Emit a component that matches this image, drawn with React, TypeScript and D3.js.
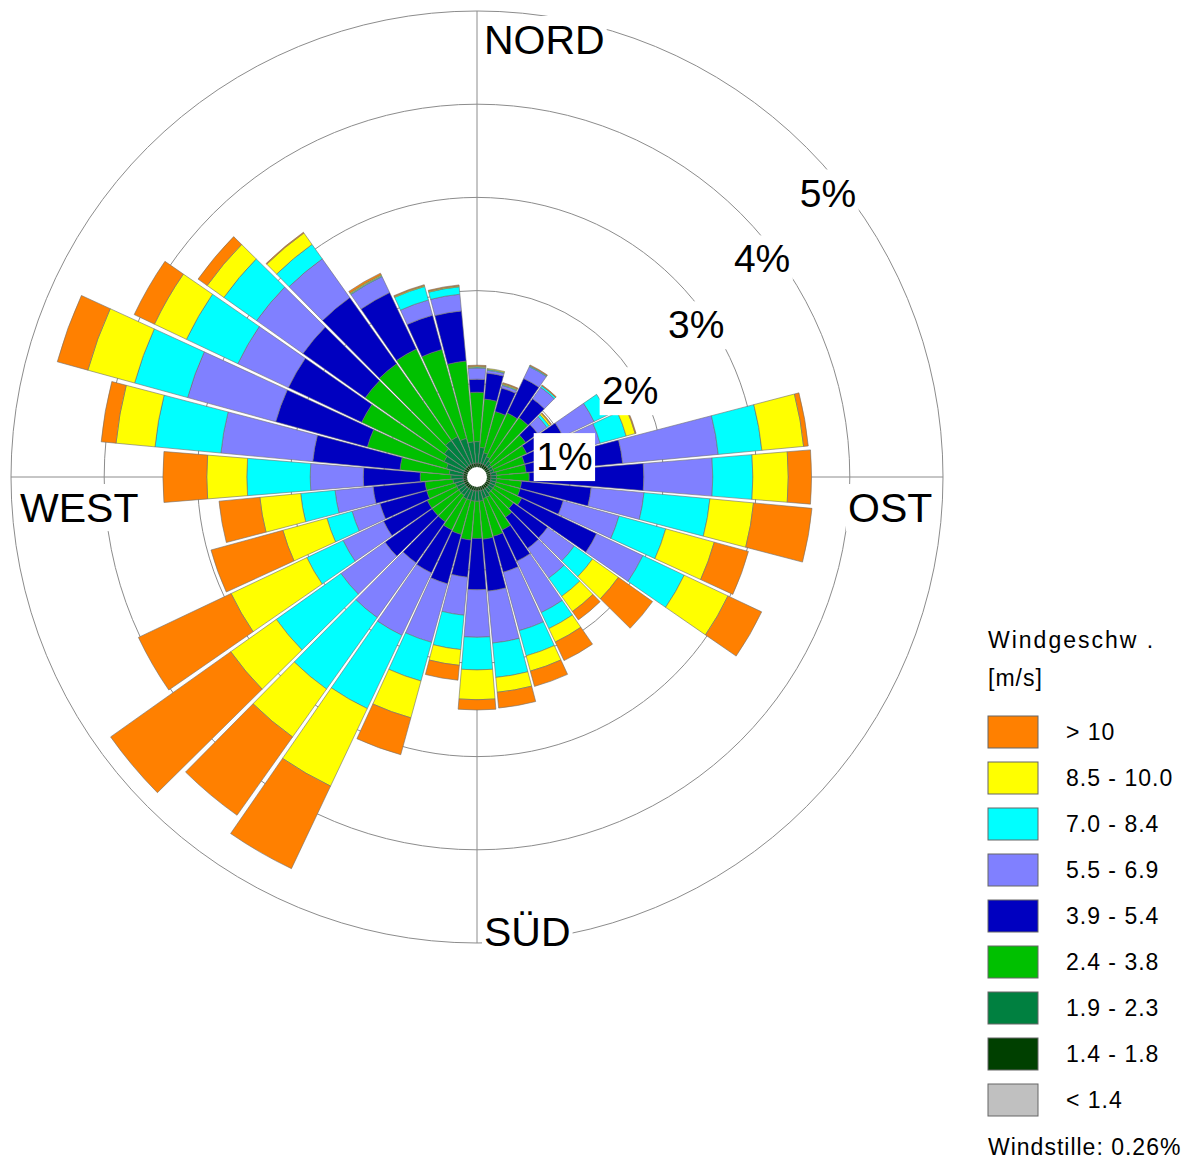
import React, { useRef, useEffect } from "react";
import * as d3 from "d3";

// Wind directions in degrees, clockwise from north
const directions = [
  0, 10, 20, 30, 40, 50, 60, 70, 80, 90, 100, 110,
  120, 130, 140, 150, 160, 170, 180, 190, 200, 210, 220, 230,
  240, 250, 260, 270, 280, 290, 300, 310, 320, 330, 340, 350,
];

// Frequency (%) per direction, one list per speed class (inner -> outer)
const speedLt14 = [
  0.05, 0.05, 0.05, 0.05, 0.05, 0.05, 0.05, 0.05, 0.05, 0.05, 0.05, 0.05,
  0.05, 0.05, 0.05, 0.05, 0.05, 0.05, 0.05, 0.05, 0.05, 0.05, 0.05, 0.05,
  0.05, 0.05, 0.05, 0.05, 0.05, 0.05, 0.05, 0.05, 0.05, 0.05, 0.05, 0.05,
];
const speed14to18 = [
  0.1, 0.1, 0.1, 0.1, 0.1, 0.1, 0.1, 0.1, 0.1, 0.1, 0.1, 0.1,
  0.1, 0.1, 0.1, 0.1, 0.1, 0.1, 0.1, 0.1, 0.1, 0.1, 0.1, 0.1,
  0.1, 0.1, 0.1, 0.1, 0.1, 0.1, 0.1, 0.1, 0.1, 0.1, 0.1, 0.1,
];
const speed19to23 = [
  0.23, 0.17, 0.12, 0.09, 0.06, 0.04, 0.04, 0.04, 0.06, 0.06, 0.06, 0.06,
  0.06, 0.06, 0.06, 0.09, 0.09, 0.11, 0.11, 0.11, 0.11, 0.11, 0.09, 0.09,
  0.09, 0.09, 0.11, 0.13, 0.15, 0.19, 0.24, 0.28, 0.33, 0.33, 0.28, 0.23,
];
const speed24to38 = [
  0.53, 0.52, 0.46, 0.52, 0.57, 0.45, 0.4, 0.34, 0.32, 0.35, 0.27, 0.27,
  0.32, 0.27, 0.32, 0.39, 0.42, 0.41, 0.4, 0.42, 0.38, 0.37, 0.35, 0.35,
  0.35, 0.32, 0.3, 0.33, 0.53, 0.88, 0.98, 1.04, 1.01, 1.04, 0.99, 0.87,
];
const speed39to54 = [
  0.14, 0.28, 0.26, 0.41, 0.25, 0.16, 0.43, 0.54, 1.04, 1.23, 0.75, 0.48,
  0.89, 0.45, 0.41, 0.37, 0.4, 0.56, 0.55, 0.4, 0.55, 0.51, 0.54, 0.62,
  0.52, 0.52, 0.56, 0.61, 0.94, 1.02, 0.87, 0.82, 0.87, 0.67, 0.38, 0.54,
];
const speed55to69 = [
  0.12, 0.03, 0.03, 0.14, 0.15, 0.12, 0.37, 0.3, 1.03, 0.74, 0.57, 0.62,
  0.55, 0.35, 0.39, 0.61, 0.65, 0.56, 0.51, 0.41, 0.65, 0.74, 0.72, 0.58,
  0.48, 0.31, 0.41, 0.57, 0.99, 0.98, 0.6, 0.61, 0.51, 0.19, 0.17, 0.18,
];
const speed70to84 = [
  0.01, 0.01, 0.01, 0.01, 0.02, 0.03, 0.17, 0.29, 0.47, 0.43, 0.71, 0.52,
  0.49, 0.24, 0.24, 0.19, 0.28, 0.37, 0.35, 0.37, 0.43, 0.87, 0.94, 0.85,
  0.43, 0.28, 0.37, 0.68, 0.71, 0.59, 0.61, 0.43, 0.19, 0.01, 0.15, 0.08,
];
const speed85to100 = [
  0.01, 0.01, 0.01, 0.0, 0.0, 0.02, 0.0, 0.1, 0.45, 0.38, 0.47, 0.54,
  0.52, 0.34, 0.2, 0.16, 0.17, 0.16, 0.32, 0.17, 0.41, 0.92, 0.63, 0.6,
  0.9, 0.49, 0.44, 0.43, 0.42, 0.52, 0.38, 0.22, 0.15, 0.01, 0.01, 0.01,
];
const speedGt10 = [
  0.01, 0.0, 0.01, 0.01, 0.01, 0.01, 0.0, 0.01, 0.05, 0.25, 0.63, 0.38,
  0.4, 0.45, 0.11, 0.22, 0.17, 0.17, 0.11, 0.16, 0.41, 0.98, 1.03, 1.58,
  1.1, 0.8, 0.44, 0.47, 0.16, 0.34, 0.24, 0.12, 0.01, 0.02, 0.01, 0.01,
];

const speedLabels = [
  "< 1.4", "1.4 - 1.8", "1.9 - 2.3", "2.4 - 3.8", "3.9 - 5.4",
  "5.5 - 6.9", "7.0 - 8.4", "8.5 - 10.0", "> 10",
];
const speedColors = [
  "#c0c0c0", "#004000", "#008040", "#00c000", "#0000c0",
  "#8080ff", "#00ffff", "#ffff00", "#ff8000",
];
const ringTicks = [1, 2, 3, 4, 5];
const cardinalNames = ["NORD", "OST", "SÜD", "WEST"];
const calmShare = 0.26;

const FONT = "'Liberation Sans', Arial, Helvetica, sans-serif";

const WindRose: React.FC = () => {
  const chartRef = useRef<SVGSVGElement | null>(null);

  useEffect(() => {
    if (!chartRef.current) return;
    const svg = d3.select(chartRef.current);
    svg.selectAll("*").remove();

    const cx = 477;
    const cy = 477;
    const rScale = d3.scaleLinear().domain([0, 5]).range([0, 466]);
    const series = [
      speedLt14, speed14to18, speed19to23, speed24to38, speed39to54,
      speed55to69, speed70to84, speed85to100, speedGt10,
    ];
    const toRad = (deg: number) => (deg * Math.PI) / 180;
    const halfWidth = 4.65;

    const rose = svg
      .append("g")
      .attr("class", "rose")
      .attr("transform", `translate(${cx},${cy})`);

    // Grid rings and axes
    const grid = rose.append("g").attr("class", "grid");
    grid
      .selectAll("circle")
      .data(ringTicks)
      .join("circle")
      .attr("r", (d) => rScale(d))
      .attr("fill", "none")
      .attr("stroke", "#8c8c8c")
      .attr("stroke-width", 1);
    grid
      .append("line")
      .attr("x1", 0)
      .attr("x2", 0)
      .attr("y1", -rScale(5))
      .attr("y2", rScale(5))
      .attr("stroke", "#8c8c8c");
    grid
      .append("line")
      .attr("y1", 0)
      .attr("y2", 0)
      .attr("x1", -rScale(5))
      .attr("x2", rScale(5))
      .attr("stroke", "#8c8c8c");

    // Stacked sectors
    const segments = directions
      .flatMap((dir, i) => {
        let acc = 0;
        return series.map((vals, k) => {
          const r0 = acc;
          acc += vals[i];
          return { dir, k, r0, r1: acc };
        });
      })
      .filter((d) => d.r1 > d.r0);

    const arc = d3
      .arc<any>()
      .innerRadius((d: any) => rScale(d.r0))
      .outerRadius((d: any) => rScale(d.r1))
      .startAngle((d: any) => toRad(d.dir - halfWidth))
      .endAngle((d: any) => toRad(d.dir + halfWidth));

    rose
      .append("g")
      .attr("class", "bars")
      .selectAll("path")
      .data(segments)
      .join("path")
      .attr("d", arc as any)
      .attr("fill", (d) => speedColors[d.k])
      .attr("stroke", "#6e6e6e")
      .attr("stroke-width", 0.6)
      .attr("stroke-linejoin", "round");

    rose.append("circle").attr("r", 10).attr("fill", "#fff");

    // Labels with white boxes
    const boxedText = (
      parent: d3.Selection<SVGGElement, unknown, null, undefined>,
      x: number,
      y: number,
      text: string,
      size: number,
      anchor: string,
      padX: number,
      padTop: number,
      padBottom: number
    ) => {
      const grp = parent.append("g");
      const rect = grp.append("rect").attr("fill", "#fff");
      const t = grp
        .append("text")
        .attr("x", x)
        .attr("y", y)
        .attr("text-anchor", anchor)
        .attr("font-family", FONT)
        .attr("font-size", size)
        .attr("fill", "#000")
        .text(text);
      const bb = (t.node() as SVGTextElement).getBBox();
      rect
        .attr("x", bb.x - padX)
        .attr("y", bb.y - padTop)
        .attr("width", bb.width + padX * 2)
        .attr("height", bb.height + padTop + padBottom);
    };

    const labels = rose.append("g").attr("class", "labels");
    ringTicks.forEach((tick) => {
      const rr = rScale(tick);
      const x = rr * Math.SQRT1_2 + 21.5;
      const y = -rr * Math.SQRT1_2 + 45 + 14;
      boxedText(labels, x, y, `${tick}%`, 39, "middle", 2.5, 2, 3);
    });

    const cardinalPos: Record<string, [number, number]> = {
      NORD: [7, -423],
      OST: [371, 45],
      SÜD: [7, 469],
      WEST: [-457, 45],
    };
    cardinalNames.forEach((name) => {
      const [x, y] = cardinalPos[name];
      boxedText(labels, x, y, name, 41, "start", 2, 1, 0);
    });

    // Legend
    const legend = svg
      .append("g")
      .attr("class", "legend")
      .attr("transform", "translate(988,0)");
    legend
      .append("text")
      .attr("x", 0)
      .attr("y", 648)
      .attr("font-family", FONT)
      .attr("font-size", 23)
      .attr("letter-spacing", 2)
      .text("Windgeschw .");
    legend
      .append("text")
      .attr("x", 0)
      .attr("y", 686)
      .attr("font-family", FONT)
      .attr("font-size", 23)
      .attr("letter-spacing", 1)
      .text("[m/s]");

    const legendItems = speedLabels
      .map((label, k) => ({ label, color: speedColors[k] }))
      .reverse();
    const rowY = d3
      .scaleBand<number>()
      .domain(legendItems.map((_, i) => i))
      .range([716, 716 + 46 * legendItems.length])
      .paddingInner(0);

    const rows = legend
      .selectAll("g.row")
      .data(legendItems)
      .join("g")
      .attr("class", "row")
      .attr("transform", (_, i) => `translate(0,${rowY(i)})`);
    rows
      .append("rect")
      .attr("x", 0)
      .attr("y", 0)
      .attr("width", 50)
      .attr("height", 32)
      .attr("fill", (d) => d.color)
      .attr("stroke", "#666")
      .attr("stroke-width", 1);
    rows
      .append("text")
      .attr("x", 78)
      .attr("y", 24)
      .attr("font-family", FONT)
      .attr("font-size", 23)
      .attr("letter-spacing", 1)
      .text((d) => d.label);

    legend
      .append("text")
      .attr("x", 0)
      .attr("y", 1155)
      .attr("font-family", FONT)
      .attr("font-size", 23)
      .attr("letter-spacing", 1)
      .text(`Windstille: ${calmShare.toFixed(2)}%`);
  }, []);

  return (
    <svg
      ref={chartRef}
      width={1192}
      height={1161}
      style={{ position: "absolute", left: 0, top: 0, background: "#fff" }}
    />
  );
};

export default function App() {
  return <WindRose />;
}
